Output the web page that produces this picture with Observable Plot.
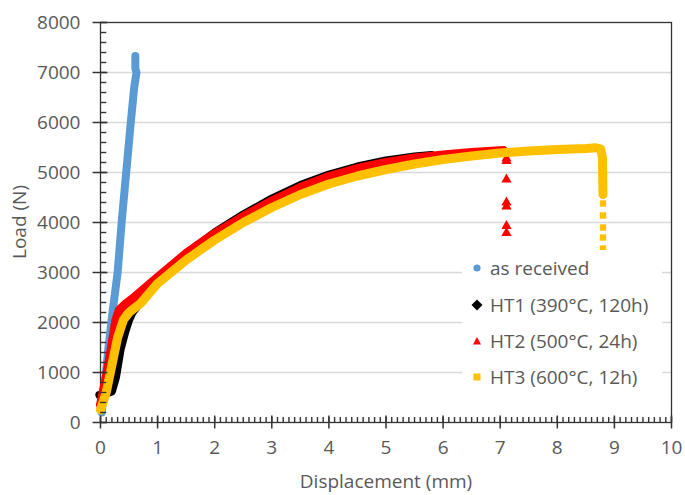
<!DOCTYPE html>
<html><head><meta charset="utf-8">
<script src="https://cdn.jsdelivr.net/npm/d3@7"></script>
<script src="https://cdn.jsdelivr.net/npm/@observablehq/plot@0.6"></script>
<style>
body{margin:0;background:#fff;}
#wrap{position:relative;width:685px;height:495px;font-family:"Open Sans",sans-serif;color:#595959;background:#fff;}
#legend{position:absolute;left:462px;top:250px;width:200px;height:146px;background:#fff;}
.item{position:absolute;left:0;height:24px;display:flex;align-items:center;font-size:19px;white-space:nowrap;}
.item svg{margin-left:8px;margin-right:6px;}
.atitle{position:absolute;font-size:19px;line-height:19px;white-space:nowrap;transform:translate(-50%,-50%);}
</style></head><body><div id="wrap"></div>
<script>
// Data (displacement mm, load N)
const asReceived = [[0.02,200],[0.07,700],[0.14,1500],[0.21,2200],[0.30,3000],[0.37,4000],[0.45,5000],[0.53,6000],[0.59,6700],[0.63,7000],[0.61,7080],[0.61,7330]];
const ht1 = [[-0.02,550],[0.1,580],[0.2,620],[0.27,900],[0.35,1450],[0.43,1800],[0.5,2050],[0.56,2200],[0.7,2400],[1.0,2850],[1.5,3380],[2.0,3800],[2.5,4160],[3.0,4480],[3.5,4750],[4.0,4960],[4.5,5120],[5.0,5240],[5.5,5320],[5.8,5350]];
const ht2 = [[0.0,350],[0.1,900],[0.2,1550],[0.27,2050],[0.33,2250],[0.45,2380],[0.6,2510],[1.0,2900],[1.5,3380],[2.0,3780],[2.5,4120],[3.0,4430],[3.5,4700],[4.0,4920],[4.5,5080],[5.0,5200],[5.5,5290],[6.0,5350],[6.5,5400],[7.06,5440]];
const ht2Tail = [[7.11,5280],[7.11,5230],[7.11,4860],[7.11,4400],[7.11,4320],[7.11,3930],[7.11,3790]];
const ht3 = [[0.0,250],[0.1,600],[0.2,1150],[0.3,1700],[0.4,2050],[0.5,2200],[0.7,2380],[1.0,2780],[1.5,3250],[2.0,3650],[2.5,4000],[3.0,4300],[3.5,4560],[4.0,4770],[4.5,4930],[5.0,5060],[5.5,5170],[6.0,5260],[6.5,5330],[7.0,5390],[7.5,5430],[8.0,5460],[8.5,5480],[8.68,5495],[8.76,5470],[8.79,5300],[8.8,4560]];
const ht3Tail = [[8.8,4380],[8.8,4140],[8.8,3900],[8.8,3700],[8.8,3480]];

const seriesNames = ["as received","HT1 (390°C, 120h)","HT2 (500°C, 24h)","HT3 (600°C, 12h)"];
const seriesColors = ["#5B9BD5","#000000","#FF0000","#FFC000"];
const xTicks = [0,1,2,3,4,5,6,7,8,9,10];
const yTicks = [0,1000,2000,3000,4000,5000,6000,7000,8000];
const xMinor = d3.range(0,101).map(i => i/10);
const yMinor = d3.range(0,8001,200);
// tick lengths in data units (x: mm, y: N)
const xMinorLen = 100, xMajorLen = 130, yMinorLen = 0.11, yMajorLen = 0.13;

const X = d => d[0], Y = d => d[1], I = d => d;
const axisColor = "#333333";
const textColor = "#595959";
const lineOpts = (c, w) => ({x: X, y: Y, stroke: c, strokeWidth: w, strokeLinecap: "round", strokeLinejoin: "round"});

const chart = Plot.plot({
  width: 685, height: 495,
  marginLeft: 100, marginRight: 14, marginTop: 22, marginBottom: 73,
  x: {domain: [0, 10]},
  y: {domain: [0, 8000]},
  style: {fontFamily: "Open Sans, sans-serif", fontSize: "19px", color: textColor},
  marks: [
    Plot.gridY(yTicks.filter(v => v > 0 && v < 8000), {stroke: "#d9d9d9", strokeOpacity: 1, strokeWidth: 1.3}),
    Plot.frame({stroke: axisColor, strokeWidth: 1.3}),
    Plot.line(asReceived, lineOpts(seriesColors[0], 8)),
    Plot.line(ht1, lineOpts(seriesColors[1], 8)),
    Plot.line(ht2, lineOpts(seriesColors[2], 9)),
    Plot.dot(ht2Tail, {x: X, y: Y, symbol: "triangle", r: 3.8, fill: seriesColors[2]}),
    Plot.line(ht3, lineOpts(seriesColors[3], 9)),
    Plot.dot(ht3Tail, {x: X, y: Y, symbol: "square", r: 3.6, fill: seriesColors[3]}),
    Plot.axisX(xTicks, {tickSize: 0, tickPadding: 18, label: null, color: textColor, fontSize: 19}),
    Plot.axisY(yTicks, {tickSize: 0, tickPadding: 20, label: null, color: textColor, fontSize: 19, tickFormat: d => String(d)}),
    Plot.ruleX(xMinor, {x: I, y1: 0, y2: xMinorLen, stroke: axisColor, strokeWidth: 1.4}),
    Plot.ruleX(xTicks, {x: I, y1: -xMajorLen, y2: xMajorLen, stroke: axisColor, strokeWidth: 1.5}),
    Plot.ruleY(yMinor, {y: I, x1: 0, x2: yMinorLen, stroke: axisColor, strokeWidth: 1.4}),
    Plot.ruleY(yTicks, {y: I, x1: -yMajorLen, x2: yMajorLen, stroke: axisColor, strokeWidth: 1.5})
  ]
});

const wrap = document.getElementById("wrap");
wrap.appendChild(chart);

const xt = document.createElement("div");
xt.className = "atitle"; xt.style.left = "386px"; xt.style.top = "481px"; xt.textContent = "Displacement (mm)";
wrap.appendChild(xt);
const yt = document.createElement("div");
yt.className = "atitle"; yt.style.left = "19px"; yt.style.top = "222px";
yt.style.transform = "translate(-50%,-50%) rotate(-90deg)"; yt.textContent = "Load (N)";
wrap.appendChild(yt);

const markers = [
  '<circle cx="7" cy="7" r="3.6" fill="#5B9BD5"/>',
  '<path d="M7 1.5 L12.5 7 L7 12.5 L1.5 7 Z" fill="#000"/>',
  '<path d="M7 3 L11 10.5 L3 10.5 Z" fill="#FF0000"/>',
  '<rect x="3.5" y="3.5" width="7" height="7" fill="#FFC000"/>'
];
const legend = document.createElement("div");
legend.id = "legend";
const rowCenters = [18, 55, 91, 127];
seriesNames.forEach((name, i) => {
  const it = document.createElement("div");
  it.className = "item";
  it.style.top = (rowCenters[i] - 12) + "px";
  it.innerHTML = '<svg width="14" height="14">' + markers[i] + '</svg><span>' + name + '</span>';
  legend.appendChild(it);
});
wrap.appendChild(legend);
</script></body></html>
